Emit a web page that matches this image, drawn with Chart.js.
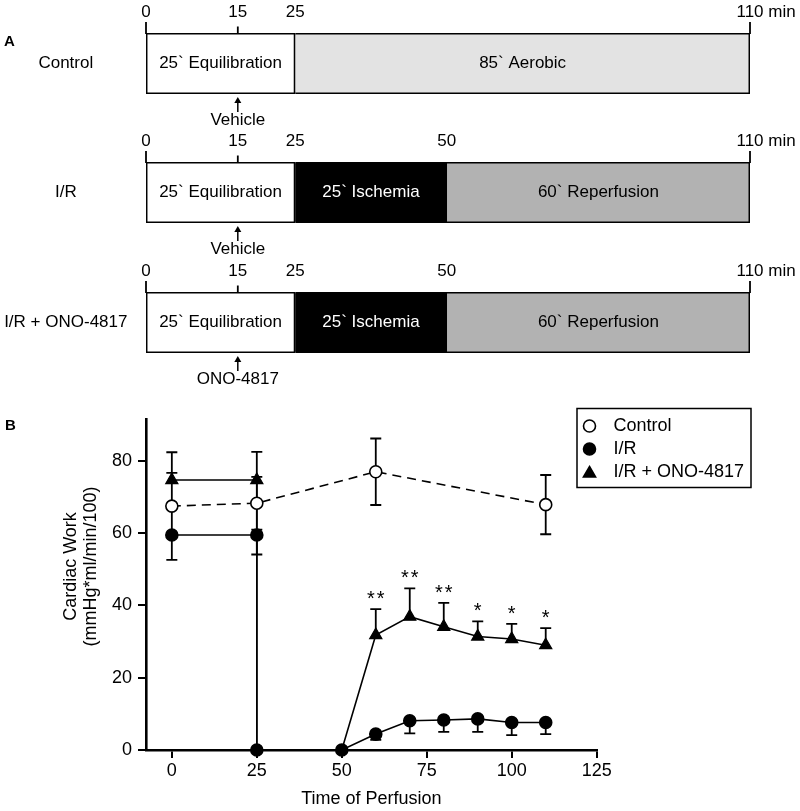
<!DOCTYPE html>
<html><head><meta charset="utf-8">
<script src="https://cdn.jsdelivr.net/npm/chart.js@4.4.1/dist/chart.umd.min.js"></script>
<style>
html,body{margin:0;padding:0;background:#fff;overflow:hidden;}
#wrap{position:relative;width:800px;height:811px;background:#fff;}
canvas{position:absolute;left:0;}
</style></head><body>
<div id="wrap">
<canvas id="a0" width="800" height="130" style="top:0px"></canvas>
<canvas id="a1" width="800" height="130" style="top:129px"></canvas>
<canvas id="a2" width="800" height="130" style="top:259px"></canvas>
<canvas id="b" width="800" height="421" style="top:390px"></canvas>
</div>
<script>
// ---------- Panel A data (perfusion protocols) ----------
const protocolGroups = ['Control', 'I/R', 'I/R + ONO-4817'];
const phaseNames = [
  ['Equilibration', 'Aerobic'],
  ['Equilibration', 'Ischemia', 'Reperfusion'],
  ['Equilibration', 'Ischemia', 'Reperfusion']
];
const phaseBounds = [
  [0, 25, 110],
  [0, 25, 50, 110],
  [0, 25, 50, 110]
];
const timelineTicks = [
  [0, 15, 25, 110],
  [0, 15, 25, 50, 110],
  [0, 15, 25, 50, 110]
];
const treatments = ['Vehicle', 'Vehicle', 'ONO-4817'];
const treatmentTime = 15;
const timeUnit = 'min';

// ---------- Panel B data (cardiac work) ----------
const controlX = [0, 25, 60, 110];
const controlY = [67.5, 68.3, 77.0, 67.9];
const controlErr = [14.9, 14.2, 9.2, 8.2];

const irX = [0, 25, 25, 50, 60, 70, 80, 90, 100, 110];
const irY = [59.5, 59.5, 0, 0, 4.4, 8.1, 8.3, 8.6, 7.6, 7.6];
const irErrUp = [0, 1.5, 0, 0, 0, 0, 0, 0, 0, 0];
const irErrDown = [0, 0, 0, 0, 1.6, 3.5, 3.3, 3.6, 3.5, 3.2];

const onoX = [0, 25, 25, 50, 60, 70, 80, 90, 100, 110];
const onoY = [74.7, 74.7, 0, 0, 31.8, 36.9, 34.1, 31.4, 30.7, 29.0];
const onoErrUp = [2.0, 0.9, 0, 0, 7.2, 7.8, 6.6, 4.2, 4.2, 4.7];
const onoSignificance = ['', '', '', '', '**', '**', '**', '*', '*', '*'];

const xTicksB = [0, 25, 50, 75, 100, 125];
const yTicksB = [0, 20, 40, 60, 80];
const xTitleB = 'Time of Perfusion';
const yTitleB = ['Cardiac Work', '(mmHg*ml/min/100)'];

// ---------- styles / layout ----------
const FONT = "'Liberation Sans', Arial, Helvetica, sans-serif";
const phaseFill = { Equilibration: '#ffffff', Aerobic: '#e3e3e3', Ischemia: '#000000', Reperfusion: '#b2b2b2' };
const phaseText = { Equilibration: '#000', Aerobic: '#000', Ischemia: '#fff', Reperfusion: '#000' };
// schematic (not-to-scale) time axis: [minute, fraction of width]
const TIMELINE_BREAKS = [[0, 0], [15, 0.152], [25, 0.247], [50, 0.498], [110, 1]];

class PiecewiseScale extends Chart.LinearScale {
  getPixelForValue(value) {
    const br = TIMELINE_BREAKS;
    let f;
    if (value <= br[0][0]) f = br[0][1];
    else if (value >= br[br.length - 1][0]) f = br[br.length - 1][1];
    else {
      for (let i = 0; i < br.length - 1; i++) {
        const [v0, f0] = br[i], [v1, f1] = br[i + 1];
        if (value >= v0 && value <= v1) { f = f0 + (value - v0) / (v1 - v0) * (f1 - f0); break; }
      }
    }
    return this.getPixelForDecimal(f);
  }
  getValueForPixel(pixel) {
    const br = TIMELINE_BREAKS;
    const f = this.getDecimalForPixel(pixel);
    for (let i = 0; i < br.length - 1; i++) {
      const [v0, f0] = br[i], [v1, f1] = br[i + 1];
      if (f >= f0 && f <= f1) return v0 + (f - f0) / (f1 - f0) * (v1 - v0);
    }
    return f <= 0 ? br[0][0] : br[br.length - 1][0];
  }
}
PiecewiseScale.id = 'piecewise';
PiecewiseScale.defaults = Chart.LinearScale.defaults;
Chart.register(PiecewiseScale);

const A_FONT = 17;
const A_TICK_PAD = 10;
const ROW_LABEL_CENTER = 65.8;

function timelinePlugin(i) {
  return {
    id: 'timeline' + i,
    afterDraw(chart) {
      const ctx = chart.ctx;
      const xs = chart.scales.x;
      const yScale = chart.scales.y;
      const area = chart.chartArea;
      ctx.save();
      ctx.strokeStyle = '#000';
      ctx.fillStyle = '#000';
      ctx.lineWidth = 1.8;
      // tick marks above bar
      const ends = [phaseBounds[i][0], phaseBounds[i][phaseBounds[i].length - 1]];
      ends.forEach(v => {
        const x = xs.getPixelForValue(v);
        ctx.beginPath(); ctx.moveTo(x, area.top - 11); ctx.lineTo(x, area.top + 1); ctx.stroke();
      });
      {
        const x = xs.getPixelForValue(treatmentTime);
        ctx.beginPath(); ctx.moveTo(x, area.top - 6.5); ctx.lineTo(x, area.top + 1); ctx.stroke();
      }
      ctx.font = A_FONT + 'px ' + FONT;
      ctx.textBaseline = 'middle';
      // group (row) label, centred in the left margin
      ctx.textAlign = 'center';
      ctx.fillText(chart.data.labels[0], ROW_LABEL_CENTER, yScale.getPixelForValue(0) - 0.5);
      // " min" after last tick label
      const lastV = timelineTicks[i][timelineTicks[i].length - 1];
      const lx = xs.getPixelForValue(lastV);
      const w = ctx.measureText(String(lastV)).width;
      ctx.textAlign = 'left';
      ctx.fillText(' ' + timeUnit, lx + w / 2, xs.bottom - A_TICK_PAD - A_FONT * 1.2 / 2);
      // phase labels inside bars
      const b = phaseBounds[i];
      ctx.textAlign = 'center';
      phaseNames[i].forEach((name, k) => {
        const x0 = xs.getPixelForValue(b[k]), x1 = xs.getPixelForValue(b[k + 1]);
        ctx.fillStyle = phaseText[name];
        ctx.fillText((b[k + 1] - b[k]) + '` ' + name, (x0 + x1) / 2, (area.top + area.bottom) / 2 - 0.5);
      });
      // treatment arrow and label
      ctx.fillStyle = '#000';
      const ax = xs.getPixelForValue(treatmentTime);
      const tip = area.bottom + 3;
      ctx.lineWidth = 1.5;
      ctx.beginPath(); ctx.moveTo(ax, tip + 4); ctx.lineTo(ax, tip + 15); ctx.stroke();
      ctx.beginPath(); ctx.moveTo(ax, tip); ctx.lineTo(ax - 3.5, tip + 6); ctx.lineTo(ax + 3.5, tip + 6); ctx.closePath(); ctx.fill();
      ctx.fillText(treatments[i], ax, area.bottom + 26);
      if (i === 0) {
        ctx.font = 'bold 15px ' + FONT;
        ctx.textAlign = 'left';
        ctx.fillText('A', 4, 41.5);
      }
      ctx.restore();
    }
  };
}

function rowChart(i) {
  const bounds = phaseBounds[i];
  const datasets = phaseNames[i].map((name, k) => ({
    label: name,
    data: [[bounds[k], bounds[k + 1]]],
    backgroundColor: phaseFill[name],
    borderColor: '#000',
    borderWidth: 1.8,
    borderSkipped: k === 0 ? false : 'left',
    grouped: false,
    barPercentage: 1,
    categoryPercentage: 1
  }));
  return new Chart(document.getElementById('a' + i), {
    type: 'bar',
    data: { labels: [protocolGroups[i]], datasets },
    options: {
      indexAxis: 'y',
      responsive: false,
      animation: false,
      layout: { padding: { left: 146, right: 50, top: 0, bottom: 36 } },
      plugins: { legend: { display: false }, tooltip: { enabled: false } },
      scales: {
        x: {
          type: 'piecewise', position: 'top', min: 0, max: 110,
          afterBuildTicks: s => { s.ticks = timelineTicks[i].map(v => ({ value: v })); },
          afterFit: s => { s.height = 33; },
          grid: { display: false, drawTicks: false },
          border: { display: false },
          ticks: { color: '#000', font: { family: FONT, size: A_FONT }, padding: A_TICK_PAD, autoSkip: false, maxRotation: 0, callback: v => String(v) }
        },
        y: {
          type: 'category',
          display: false
        }
      }
    },
    plugins: [timelinePlugin(i)]
  });
}
[0, 1, 2].forEach(rowChart);

// ---------- Panel B ----------
const toPts = (xs, ys) => xs.map((x, j) => ({ x, y: ys[j] }));

const errorBarPlugin = {
  id: 'errorBars',
  beforeDatasetsDraw(chart) {
    const ctx = chart.ctx, ys = chart.scales.y;
    ctx.save();
    ctx.strokeStyle = '#000';
    ctx.lineWidth = 1.8;
    chart.data.datasets.forEach((ds, di) => {
      const meta = chart.getDatasetMeta(di);
      meta.data.forEach((pt, j) => {
        const v = ds.data[j].y;
        const up = ds.errUp ? ds.errUp[j] : 0;
        const dn = ds.errDown ? ds.errDown[j] : 0;
        const x = pt.x;
        [[up, 1], [dn, -1]].forEach(([e, s]) => {
          if (!e) return;
          const y0 = ys.getPixelForValue(v), y1 = ys.getPixelForValue(v + s * e);
          ctx.beginPath(); ctx.moveTo(x, y0); ctx.lineTo(x, y1);
          ctx.moveTo(x - 5.5, y1); ctx.lineTo(x + 5.5, y1); ctx.stroke();
        });
      });
    });
    ctx.restore();
  },
  afterDatasetsDraw(chart) {
    const ctx = chart.ctx, ys = chart.scales.y;
    ctx.save();
    ctx.fillStyle = '#000';
    ctx.font = '20px ' + FONT;
    ctx.textAlign = 'center';
    ctx.textBaseline = 'alphabetic';
    try { ctx.letterSpacing = '2px'; } catch (e) {}
    chart.data.datasets.forEach((ds, di) => {
      if (!ds.significance) return;
      const meta = chart.getDatasetMeta(di);
      meta.data.forEach((pt, j) => {
        const s = ds.significance[j];
        if (!s) return;
        const top = ys.getPixelForValue(ds.data[j].y + (ds.errUp ? ds.errUp[j] : 0));
        ctx.fillText(s, pt.x + 1, top - 4);
      });
    });
    ctx.restore();
  },
  afterDraw(chart) {
    const ctx = chart.ctx;
    ctx.save();
    // legend box
    const bx = 577, by = 18.5, bw = 174, bh = 79;
    ctx.strokeStyle = '#000'; ctx.lineWidth = 1.5;
    ctx.strokeRect(bx, by, bw, bh);
    ctx.font = '18px ' + FONT;
    ctx.textAlign = 'left'; ctx.textBaseline = 'middle';
    chart.data.datasets.forEach((ds, di) => {
      const y = by + 17.5 + di * 23;
      ctx.fillStyle = ds.pointBackgroundColor;
      ctx.strokeStyle = '#000';
      ctx.lineWidth = 1.6;
      Chart.helpers.drawPoint(ctx, { pointStyle: ds.pointStyle, radius: ds.pointStyle === 'triangle' ? 7 : 6, borderWidth: 1.6 }, bx + 12.5, ds.pointStyle === 'triangle' ? y + 1.5 : y);
      ctx.fillStyle = '#000';
      ctx.fillText(ds.label, bx + 36.5, y);
    });
    // y-axis title (two lines, rotated)
    ctx.textAlign = 'center';
    ctx.textBaseline = 'middle';
    ctx.translate(71, 176.5);
    ctx.rotate(-Math.PI / 2);
    yTitleB.forEach((t, k) => ctx.fillText(t, 0, k * 20));
    ctx.restore();
    // panel letter
    ctx.save();
    ctx.font = 'bold 15px ' + FONT;
    ctx.fillStyle = '#000';
    ctx.textBaseline = 'middle';
    ctx.fillText('B', 5, 36);
    ctx.restore();
  }
};

new Chart(document.getElementById('b'), {
  type: 'line',
  data: {
    datasets: [
      {
        label: 'Control', data: toPts(controlX, controlY), errUp: controlErr, errDown: controlErr,
        borderColor: '#000', borderWidth: 1.6, borderDash: [9, 6],
        pointStyle: 'circle', pointRadius: 6, pointBackgroundColor: '#ffffff', pointBorderColor: '#000', pointBorderWidth: 1.6,
        tension: 0, clip: false
      },
      {
        label: 'I/R', data: toPts(irX, irY), errUp: irErrUp, errDown: irErrDown,
        borderColor: '#000', borderWidth: 1.6,
        pointStyle: 'circle', pointRadius: 6, pointBackgroundColor: '#000000', pointBorderColor: '#000', pointBorderWidth: 1.6,
        tension: 0, clip: false
      },
      {
        label: 'I/R + ONO-4817', data: toPts(onoX, onoY), errUp: onoErrUp, significance: onoSignificance,
        borderColor: '#000', borderWidth: 1.6,
        pointStyle: 'triangle', pointRadius: c => (c.raw && c.raw.y === 0) ? 0 : 7,
        pointBackgroundColor: '#000000', pointBorderColor: '#000', pointBorderWidth: 1.2,
        tension: 0, clip: false
      }
    ]
  },
  options: {
    responsive: false,
    animation: false,
    layout: { padding: { left: 0, right: 203.3, top: 29, bottom: 0 } },
    plugins: { legend: { display: false }, tooltip: { enabled: false } },
    scales: {
      x: {
        type: 'linear', min: -7.6, max: 125,
        afterBuildTicks: s => { s.ticks = xTicksB.map(v => ({ value: v })); },
        afterFit: s => { s.height = 61; },
        grid: { drawOnChartArea: false, color: '#000', lineWidth: 2, tickLength: 8 },
        border: { display: true, color: '#000', width: 2.6 },
        ticks: { color: '#000', font: { family: FONT, size: 18 }, padding: 2, autoSkip: false, maxRotation: 0, callback: v => String(v) },
        title: { display: true, text: xTitleB, color: '#000', font: { family: FONT, size: 18 }, padding: { top: 0, bottom: 1 } }
      },
      y: {
        type: 'linear', min: 0, max: 91.6,
        afterBuildTicks: s => { s.ticks = yTicksB.map(v => ({ value: v })); },
        afterFit: s => { s.width = 146; },
        grid: { drawOnChartArea: false, color: '#000', lineWidth: 2, tickLength: 8 },
        border: { display: true, color: '#000', width: 2.6 },
        ticks: { color: '#000', font: { family: FONT, size: 18 }, padding: 6, callback: v => String(v) }
      }
    }
  },
  plugins: [errorBarPlugin]
});
</script>
</body></html>
